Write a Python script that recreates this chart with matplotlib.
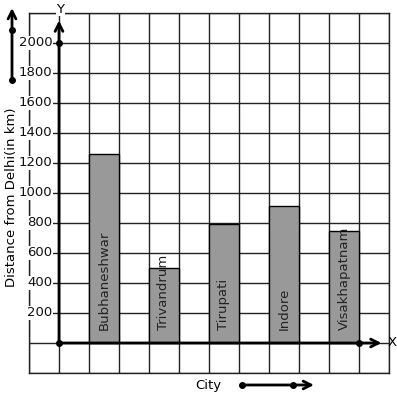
import matplotlib
matplotlib.use("Agg")
import matplotlib.pyplot as plt
import numpy as np

# data
cities = ["Bubhaneshwar", "Trivandrum", "Tirupati", "Indore", "Visakhapatnam"]
distances = [1260, 500, 795, 910, 750]
bar_left = [1, 3, 5, 7, 9]
ytick_values = [200, 400, 600, 800, 1000, 1200, 1400, 1600, 1800, 2000]

W, H = 397, 399
fig = plt.figure(figsize=(W / 100, H / 100), dpi=100)
# grid box goes from pixel (29, 13) to (389, 373)
ax = fig.add_axes([29 / W, (H - 373) / H, 360 / W, 360 / H])
ax.set_xlim(-1, 11)
ax.set_ylim(-200, 2200)

# square grid
ax.set_xticks(np.arange(-1, 12, 1))
ax.set_yticks(np.arange(-200, 2201, 200))
ax.grid(True, color="#222222", linewidth=1)
ax.set_axisbelow(True)
ax.tick_params(length=0, labelbottom=False, labelleft=False)
for s in ax.spines.values():
    s.set_color("#222222")
    s.set_linewidth(1)

# bars
ax.bar(bar_left, distances, width=1, align="edge", color="#999999",
       edgecolor="black", linewidth=1, zorder=3)
for x0, name in zip(bar_left, cities):
    ax.text(x0 + 0.5, 85, name, rotation=90, ha="center", va="bottom",
            fontsize=9.5, color="#222222", zorder=4)

# y tick labels with white background
for v in ytick_values:
    ax.text(-0.22, v, str(v), ha="right", va="center", fontsize=9.5,
            color="#111111", zorder=5, clip_on=False,
            bbox=dict(facecolor="white", edgecolor="none", pad=0.5))

# axes with arrows
arrow = dict(arrowstyle="->", lw=2, color="black", mutation_scale=14,
             shrinkA=0, shrinkB=0)
ax.annotate("", xy=(0, 2150), xytext=(0, 0), arrowprops=arrow, zorder=6,
            annotation_clip=False)
ax.annotate("", xy=(10.75, 0), xytext=(0, 0), arrowprops=arrow, zorder=6,
            annotation_clip=False)
ax.plot([0, 0, 10], [0, 2000, 0], "o", color="black", markersize=4,
        zorder=7, clip_on=False)
ax.text(10.95, 0, "X", ha="left", va="center", fontsize=9.5, zorder=6,
        clip_on=False)
ax.text(0.05, 2225, "Y", ha="center", va="center", fontsize=9.5, zorder=6,
        clip_on=False, bbox=dict(facecolor="white", edgecolor="none", pad=0.5))

# axis titles and the little direction arrows outside the grid
fig.text(12 / W, 1 - 197 / H, "Distance from Delhi(in km)", rotation=90,
         ha="center", va="center", fontsize=9.5)
fig.text(208 / W, 1 - 385 / H, "City", ha="center", va="center", fontsize=9.5)

side = dict(arrowstyle="->", lw=2, color="black", mutation_scale=14,
            shrinkA=0, shrinkB=0)
fig_px = "figure pixels"
ax.annotate("", xy=(12, H - 8), xytext=(12, H - 80), xycoords=fig_px,
            textcoords=fig_px, arrowprops=side, annotation_clip=False)
ax.annotate("", xy=(314, H - 385), xytext=(242, H - 385), xycoords=fig_px,
            textcoords=fig_px, arrowprops=side, annotation_clip=False)
for px, py in [(12, 80), (12, 30), (242, 385), (293, 385)]:
    fig.add_artist(plt.Line2D([px / W], [1 - py / H], marker="o",
                              color="black", markersize=4,
                              transform=fig.transFigure))

fig.savefig("out.png", dpi=100)
